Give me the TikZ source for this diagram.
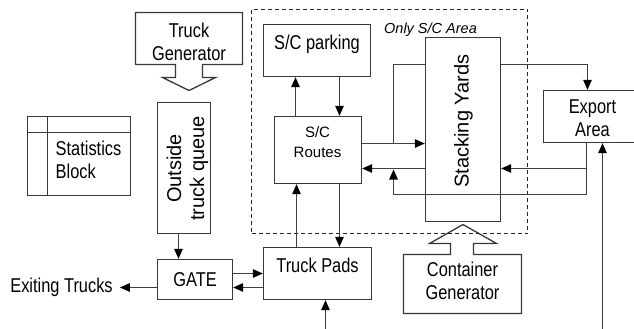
\documentclass[tikz,border=0pt]{standalone}
\usepackage{fontspec}
\setmainfont{Liberation Sans}
\newfontfamily\narrowsans[FakeStretch=0.82]{Liberation Sans}
\usetikzlibrary{arrows.meta}

\definecolor{boxgray}{gray}{0.22}
\definecolor{linegray}{gray}{0.25}

\begin{document}
\begin{tikzpicture}[x=1pt,y=-1pt,
  box/.style 2 args={draw=boxgray,line width=1.3pt,inner sep=0pt,
    minimum width=#1pt,minimum height=#2pt},
  outline/.style={draw=boxgray,line width=1.3pt,line join=miter},
  txt/.style={font=\narrowsans\fontsize{20}{23}\selectfont,align=center,inner sep=0pt},
  vtxt/.style={font=\fontsize{20}{23}\selectfont,align=center,rotate=90,inner sep=0pt},
  conn/.style={draw=linegray,line width=1.2pt},
  arr/.style={conn,-{Triangle[length=10pt,width=8.5pt,color=black]}}
]
% frame is offset by half a unit so that unit-wide strokes sit on whole pixels
\useasboundingbox (-0.5,-0.5) rectangle (633.5,328.5);
\clip (-0.5,-0.5) rectangle (633.5,328.5);

% ---- generators with their block arrows ----
\node[box={107}{52},draw=none] (tgen) at (188.5,38) {};
\draw[outline] (135,12) -- (242,12) -- (242,64) -- (202,64) -- (202,77) -- (215,77)
  -- (188.5,90) -- (162,77) -- (175,77) -- (175,64) -- (135,64) -- cycle;
\node[txt] (tgenlbl) at (188.5,41) {Truck\\Generator};

\node[box={118}{59},draw=none] (cgen) at (462,283.5) {};
\draw[outline] (403,254) -- (450,254) -- (450,243) -- (429,243) -- (462.5,224)
  -- (496,243) -- (473,243) -- (473,254) -- (521,254) -- (521,313) -- (403,313) -- cycle;
\node[txt] (cgenlbl) at (462,280) {Container\\Generator};

% ---- statistics block ----
\node[box={103}{79}] (stats) at (78.5,155.5) {};
\draw[outline] (47,116) -- (47,195);
\draw[outline] (27,132) -- (130,132);
\node[txt,anchor=west,align=left] (statslbl) at (55,159) {Statistics\\Block};

% ---- gate side ----
\node[box={53}{131}] (queue) at (183.5,167.5) {};
\node[vtxt] (queuelbl) at (187,168) {Outside\\truck queue};

\node[box={75}{40}] (gate) at (194.5,279) {};
\node[txt] (gatelbl) at (194.5,279) {GATE};

\node[box={108}{52}] (pads) at (317,273) {};
\node[txt] (padslbl) at (317,265) {Truck Pads};

\node[txt] (exit) at (61,287) {Exiting Trucks};

% ---- straddle carrier area ----
\node[box={276}{224},draw=black!85,line width=1pt,dash pattern=on 4pt off 3pt] (area) at (389,121) {};
\node[font=\itshape\fontsize{14.5}{17}\selectfont,inner sep=0pt] (arealbl) at (430,29) {Only S/C Area};

\node[box={107}{52}] (parking) at (316.5,50) {};
\node[txt] (parkinglbl) at (316.5,44) {S/C parking};

\node[box={87}{67}] (routes) at (317.5,149.5) {};
\node[font=\fontsize{15}{20}\selectfont,align=center,inner sep=0pt] (routeslbl) at (317,141.5) {S/C\\Routes};

\node[box={75}{184}] (stack) at (462.5,129) {};
\node[vtxt] (stacklbl) at (463,120.5) {Stacking Yards};

\node[box={102}{52}] (export) at (594,116) {};
\node[txt] (exportlbl) at (592,118) {Export\\Area};

% ---- connectors ----
\coordinate (q1) at ([xshift=-5.5pt]queue.south);
\draw[arr] (q1) -- (q1 |- gate.north);

\coordinate (g1) at ([yshift=6pt]gate.east);
\draw[arr] (g1) -- (g1 -| pads.west);
\coordinate (p1) at ([yshift=-14pt]pads.west);
\draw[arr] (p1) -- (p1 -| gate.east);
\coordinate (g2) at ([yshift=-8pt]gate.west);
\draw[arr] (g2) -- ([xshift=7pt]g2 -| exit.east);

\coordinate (p2) at ([xshift=-21pt]pads.north);
\draw[arr] (p2) -- (p2 |- routes.south);
\coordinate (r1) at ([xshift=21.5pt]routes.south);
\draw[arr] (r1) -- (r1 |- pads.north);

\coordinate (r2) at ([xshift=-22.5pt]routes.north);
\draw[arr] (r2) -- (r2 |- parking.south);
\coordinate (k1) at ([xshift=22.5pt]parking.south);
\draw[arr] (k1) -- (k1 |- routes.north);

% routes to the yards, with the branch over the top
\coordinate (r3) at ([yshift=6.5pt]routes.east);
\draw[arr] (r3) -- (r3 -| stack.west);
\coordinate (j1) at (393,64);
\draw[conn] (r3 -| j1) -- (j1) -- (j1 -| stack.west);

% yards to export area
\coordinate (e1) at ([xshift=-7pt]export.north);
\draw[arr] (j1 -| stack.east) -| (e1);

% return flows from the export area
\coordinate (e2) at ([xshift=-8pt]export.south);
\coordinate (j3) at (393,168);
\coordinate (j2) at (393,194);
\draw[arr] (e2 |- j3) -- (j3 -| stack.east);
\draw[arr] (j3 -| stack.west) -- (j3 -| routes.east);
\draw[arr] (e2) -- (e2 |- j2) -- (j2) -- ([yshift=-1pt]j3);

% external inputs
\coordinate (in1) at (602,329);
\draw[arr] (in1) -- (in1 |- export.south);
\coordinate (in2) at (325,329);
\draw[arr] (in2) -- (in2 |- pads.south);
\end{tikzpicture}
\end{document}
